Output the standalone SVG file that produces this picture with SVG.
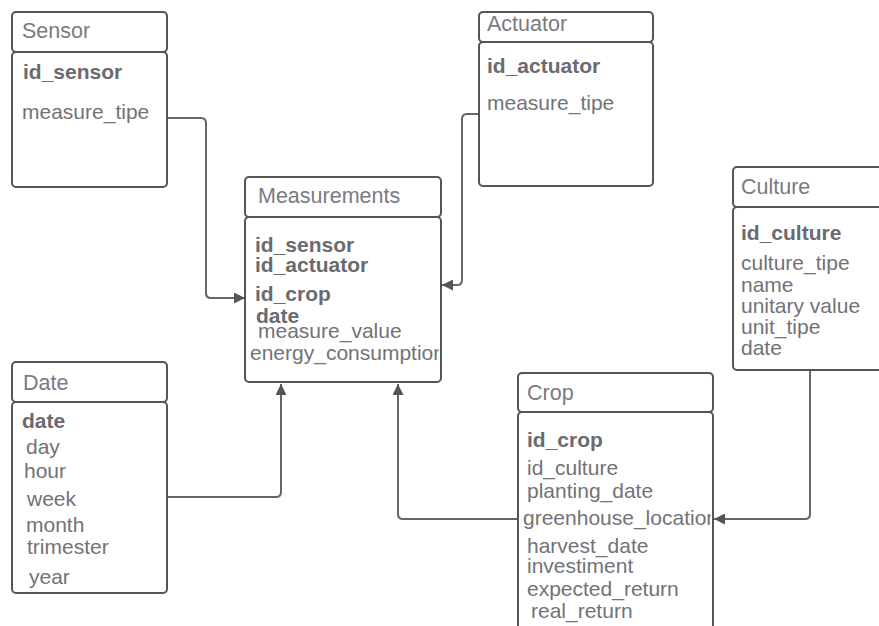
<svg xmlns="http://www.w3.org/2000/svg" width="879" height="626" viewBox="0 0 879 626">
<style>
.box{fill:#fff;stroke:#555;stroke-width:2}
.t{font-family:"Liberation Sans",Arial,sans-serif;font-size:21.5px;fill:#7a7a82}
.f{font-family:"Liberation Sans",Arial,sans-serif;font-size:21px;fill:#727278}
.k{font-family:"Liberation Sans",Arial,sans-serif;font-size:21px;font-weight:bold;fill:#6a6a70}
.c{fill:none;stroke:#666;stroke-width:2}
</style>
<defs>
<marker id="ah" viewBox="0 0 10 10" refX="10" refY="5" markerWidth="12" markerHeight="11" markerUnits="userSpaceOnUse" orient="auto">
<path d="M0,0 L10,5 L0,10 z" fill="#555"/>
</marker>
<clipPath id="clipM"><rect x="246" y="217" width="193" height="164"/></clipPath>
<clipPath id="clipC"><rect x="519" y="412" width="192" height="214"/></clipPath>
<clipPath id="clipCu"><rect x="733" y="207" width="146" height="163"/></clipPath>
</defs>
<rect width="879" height="626" fill="#fff"/>
<g id="connectors">
<path class="c" d="M167,118 H201 Q206,118 206,123 V293 Q206,298 211,298 H245" marker-end="url(#ah)"/>
<path class="c" d="M479,114 H467 Q462,114 462,119 V280 Q462,285 457,285 H442" marker-end="url(#ah)"/>
<path class="c" d="M167,497 H276 Q281,497 281,492 V384" marker-end="url(#ah)"/>
<path class="c" d="M518,519 H403 Q398,519 398,514 V384" marker-end="url(#ah)"/>
<path class="c" d="M810,370 V514 Q810,519 805,519 H714" marker-end="url(#ah)"/>
</g>
<g id="sensor">
<rect class="box" x="12" y="12" width="155" height="40" rx="4"/>
<rect class="box" x="12" y="52" width="155" height="135" rx="4"/>
<text class="t" x="22" y="38">Sensor</text>
<text class="k" x="23" y="79">id_sensor</text>
<text class="f" x="22" y="119">measure_tipe</text>
</g>
<g id="actuator">
<rect class="box" x="479" y="12" width="174" height="30" rx="4"/>
<rect class="box" x="479" y="42" width="174" height="144" rx="4"/>
<text class="t" x="487" y="31">Actuator</text>
<text class="k" x="487" y="73">id_actuator</text>
<text class="f" x="487" y="110">measure_tipe</text>
</g>
<g id="measurements">
<rect class="box" x="245" y="177" width="196" height="40" rx="4"/>
<rect class="box" x="245" y="217" width="196" height="165" rx="4"/>
<text class="t" x="258" y="203">Measurements</text>
<g clip-path="url(#clipM)">
<text class="k" x="255" y="252">id_sensor</text>
<text class="k" x="255" y="272">id_actuator</text>
<text class="k" x="255" y="301">id_crop</text>
<text class="k" x="256" y="323">date</text>
<text class="f" x="258" y="338">measure_value</text>
<text class="f" x="250" y="360">energy_consumption</text>
</g>
</g>
<g id="culture">
<rect class="box" x="733" y="167" width="152" height="40" rx="4"/>
<rect class="box" x="733" y="207" width="152" height="163" rx="4"/>
<text class="t" x="741" y="194">Culture</text>
<g clip-path="url(#clipCu)">
<text class="k" x="741" y="240">id_culture</text>
<text class="f" x="741" y="270">culture_tipe</text>
<text class="f" x="741" y="292">name</text>
<text class="f" x="741" y="313">unitary value</text>
<text class="f" x="741" y="334">unit_tipe</text>
<text class="f" x="741" y="355">date</text>
</g>
</g>
<g id="date">
<rect class="box" x="12" y="362" width="155" height="40" rx="4"/>
<rect class="box" x="12" y="402" width="155" height="191" rx="4"/>
<text class="t" x="23" y="390">Date</text>
<text class="k" x="22" y="428">date</text>
<text class="f" x="26" y="454">day</text>
<text class="f" x="24" y="478">hour</text>
<text class="f" x="27" y="506">week</text>
<text class="f" x="26" y="532">month</text>
<text class="f" x="27" y="554">trimester</text>
<text class="f" x="29" y="584">year</text>
</g>
<g id="crop">
<rect class="box" x="518" y="373" width="195" height="39" rx="4"/>
<rect class="box" x="518" y="412" width="195" height="220" rx="4"/>
<text class="t" x="527" y="400">Crop</text>
<g clip-path="url(#clipC)">
<text class="k" x="527" y="447">id_crop</text>
<text class="f" x="527" y="475">id_culture</text>
<text class="f" x="527" y="498">planting_date</text>
<text class="f" x="523" y="525">greenhouse_location</text>
<text class="f" x="527" y="553">harvest_date</text>
<text class="f" x="527" y="573">investiment</text>
<text class="f" x="527" y="596">expected_return</text>
<text class="f" x="531" y="618">real_return</text>
</g>
</g>
</svg>
